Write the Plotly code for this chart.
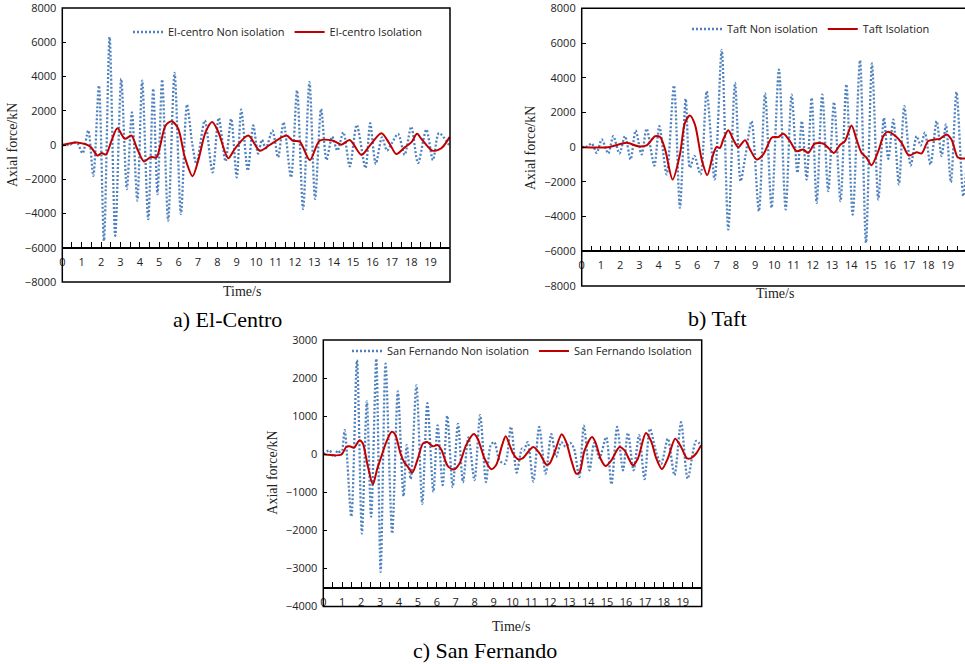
import plotly.graph_objects as go

# ---------------- data ----------------
# El-Centro
el_non_t = [0, 0.4, 0.6, 0.8, 1.05, 1.34, 1.6, 1.89, 2.15, 2.44, 2.73, 3.04, 3.33, 3.59, 3.87, 4.12, 4.43, 4.69,
            4.91, 5.15, 5.46, 5.79, 6.12, 6.43, 6.7, 6.92, 7.35, 7.75, 8.07, 8.42, 8.71, 9.0, 9.23, 9.57, 9.85,
            10.1, 10.3, 10.5, 10.84, 11.13, 11.41, 11.8, 12.11, 12.42, 12.75, 13.04, 13.35, 13.63, 13.92, 14.19,
            14.5, 14.83, 15.19, 15.64, 15.88, 16.17, 16.49, 16.75, 17.0, 17.32, 17.66, 18.0, 18.35, 18.78, 19.12,
            19.43, 19.95]
el_non_v = [0, 20, 150, 60, -480, 850, -1800, 3470, -5600, 6300, -5300, 3860, -2570, 1900, -3250, 3760, -4330, 3280,
            -2870, 3820, -4420, 4210, -4030, 2360, 100, -1100, 1430, -1600, 1580, -950, 1530, -1890, 2070, -1500, 1140,
            -500, 300, -200, 840, -720, 1330, -1890, 3190, -3740, 3670, -3150, 2110, -880, 490, -330,
            740, -1250, 1170, -1350, 1270, -1100, 450, -330, 100, 650, -570, 1070, -1050, 900, -880,
            690, 0]
el_iso_t = [0, 0.74, 1.43, 1.82, 2.03, 2.25, 2.54, 2.84, 3.23, 3.57, 3.83, 4.21, 4.55, 4.86, 5.03, 5.33, 5.64, 5.98,
            6.32, 6.72, 7.01, 7.39, 7.73, 8.04, 8.56, 8.9, 9.59, 10.19, 10.7, 11.56, 11.9, 12.25, 12.77, 13.28, 13.97,
            14.4, 14.83, 15.43, 15.86, 16.46, 16.89, 17.23, 17.66, 18.0, 18.3, 18.52, 19.09, 19.55, 19.98]
el_iso_v = [0, 150, -80, -620, -470, -560, 260, 980, 360, 550, -130, -960, -710, -710, -130, 1140, 1390, 950,
            -710, -1820, -910, 750, 1340, 790, -770, -220, 550, -330, 0, 550, 250, 200, -880, 250, 250,
            20, 290, -580, -40, 690, 60, -530, -140, 150, 650, 360, -330, -190, 460]

# Taft
tf_non_t = [0, 0.3, 0.52, 0.78, 1.04, 1.38, 1.64, 1.96, 2.25, 2.54, 2.8, 3.11, 3.37, 3.77, 4.03, 4.41, 4.79, 5.1,
            5.4, 5.62, 5.85, 6.17, 6.49, 6.9, 7.27, 7.61, 7.96, 8.25, 8.5, 8.82, 9.2, 9.52, 9.86, 10.24, 10.59,
            10.9, 11.2, 11.43, 11.68, 11.94, 12.2, 12.49, 12.8, 13.1, 13.44, 13.74, 14.07, 14.45, 14.76, 15.07,
            15.4, 15.69, 15.92, 16.18, 16.47, 16.75, 17.08, 17.39, 17.6, 17.82, 18.11, 18.43, 18.69, 18.91, 19.17,
            19.46, 19.81, 19.95]
tf_non_v = [0, 50, 210, -330, 440, -360, 630, -360, 630, -710, 960, -420, 1060, -1060, 1210, -1570, 3550, -3490,
            2780, -1190, -500, -1570, 3220, -1860, 5590, -4740, 3700, -1960, -500, 1500, -3690, 3090, -3490, 4470, -3590,
            3030, -1480, 1500, -1860, 2840, -3210, 3030, -2530, 2590, -3110, 3610, -3880, 5010, -5510, 4820,
            -3010, 1690, -670, 1590, -2150, 2360, -1060, 630, 100, 830, -1000, 1500, -520, 1310, -2020,
            3170, -2820, -1500]
tf_iso_t = [0, 1.38, 2.34, 2.94, 3.37, 3.81, 4.07, 4.33, 4.72, 5.1, 5.36, 5.62, 5.88, 6.23, 6.52, 6.8, 7.0, 7.18,
            7.35, 7.61, 7.87, 8.13, 8.48, 8.74, 9.08, 9.43, 9.86, 10.03, 10.2, 10.47, 10.81, 11.16, 11.5, 11.76,
            12.11, 12.54, 12.8, 13.1, 13.41, 13.67, 14.01, 14.27, 14.53, 14.79, 15.05, 15.4, 15.66, 15.88, 16.26,
            16.61, 16.99, 17.39, 17.65, 17.99, 18.34, 18.6, 18.94, 19.2, 19.52, 19.72, 19.95]
tf_iso_v = [0, 0, 250, 50, 100, 630, 580, -130, -1860, -420, 1400, 1820, 1300, -710, -1610, -520, 0, -40,
            440, 980, 440, 0, 400, -130, -710, -420, 540, 580, 580, 770, 350, -230, -130, -330,
            210, 210, -40, -330, 120, 350, 1250, 440, -330, -610, -1040, -230, 630, 880, 670,
            250, -480, -290, -360, 350, 440, 480, 730, 440, -580, -650, -650]

# San Fernando
sf_non_t = [0, 0.33, 0.56, 0.77, 0.95, 1.13, 1.48, 1.78, 2.04, 2.3, 2.53, 2.8, 3.03, 3.29, 3.64, 3.94, 4.24, 4.41,
            4.62, 4.92, 5.23, 5.5, 5.82, 6.04, 6.31, 6.55, 6.84, 7.12, 7.38, 7.67, 7.99, 8.29, 8.6, 8.85, 9.04,
            9.31, 9.6, 9.92, 10.22, 10.5, 10.6, 10.8, 11.1, 11.41, 11.75, 12.05, 12.3, 12.58, 12.8, 13.05, 13.25,
            13.53, 13.77, 14.07, 14.32, 14.6, 14.95, 15.23, 15.53, 15.84, 16.1, 16.4, 16.69, 16.98, 17.26, 17.6,
            17.86, 18.21, 18.56, 18.91, 19.26, 19.71, 20.0]
sf_non_v = [0, 100, -70, 100, 0, 630, -1640, 2470, -2080, 1390, -1640, 2510, -3090, 2380, -2080, 1650, -1100, 240,
            -650, 1810, -1300, 1340, -990, 760, -810, 1010, -860, 800, -730, 440, -680, 1030, -730, 240, 320,
            -160, -250, 720, -480, 150, 100, 320, -720, 720, -510, 530, -70, 320, 200, 300, 150,
            -600, 750, -420, 300, -100, 450, -790, 720, -420, 560, -420, 500, -650, 670, 40,
            -250, 410, -550, 840, -640, 350, 200]
sf_iso_t = [0, 0.95, 1.21, 1.39, 1.62, 1.92, 2.09, 2.36, 2.62, 2.85, 3.06, 3.33, 3.62, 3.8, 4.08, 4.29, 4.47, 4.7,
            5.0, 5.26, 5.49, 5.79, 6.05, 6.26, 6.58, 6.9, 7.2, 7.55, 7.95, 8.16, 8.52, 8.87, 9.13, 9.45, 9.64,
            9.85, 10.03, 10.29, 10.55, 10.82, 11.1, 11.44, 11.79, 11.96, 12.23, 12.6, 12.84, 13.11, 13.37, 13.55,
            13.81, 14.2, 14.38, 14.65, 14.92, 15.22, 15.66, 15.92, 16.19, 16.36, 16.63, 17.05, 17.33, 17.6, 17.9,
            18.21, 18.6, 18.91, 19.23, 19.44, 19.71, 19.97]
sf_iso_v = [0, -10, 190, 210, 170, 370, 280, -330, -790, -380, -70, 320, 590, 520, 20, -220, -330, -480,
            -110, 280, 320, 210, 240, 100, -310, -400, -240, 240, 530, 410, -110, -390, -290, 240, 470,
            240, 20, -130, -100, 60, 190, 20, -270, -240, 60, 525, 320, -160, -510, -460,
            100, 450, 320, -110, -310, -160, 190, 100, -160, -290, -110, 560, 340, -110, -390,
            -110, 410, 190, -110, -100, 20, 240]

x_tick_vals = list(range(20))
x_tick_text = [str(v) for v in x_tick_vals]

# ---------------- layout geometry ----------------
W, H = 965, 664
BLUE = "#4F81BD"
RED = "#C00000"
TICK_FONT = dict(family="Open Sans", size=11, color="#222")
SERIF = "Liberation Serif"


def px_x(p):
    return p / W


def px_y(p):
    return 1 - p / H


panels = [
    dict(name="El-centro", xd=[px_x(62.3), px_x(450)], yd=[px_y(282), px_y(8)], xr=[0, 20],
         yr=[-8000, 8000], dy=2000, xline=-6000,
         non=(el_non_t, el_non_v), iso=(el_iso_t, el_iso_v), leg=(128, 32),
         ytitle=(12, 145), xtitle=(242, 292), sub=("a) El-Centro", 227, 319), frame_x1=1),
    dict(name="Taft", xd=[px_x(581.7), 1.0], yd=[px_y(286), px_y(8.3)], xr=[0, (W - 581.7) / 19.26],
         yr=[-8000, 8000], dy=2000, xline=-6000,
         non=(tf_non_t, tf_non_v), iso=(tf_iso_t, tf_iso_v), leg=(687, 29),
         ytitle=(530, 148), xtitle=(775, 294), sub=("b) Taft", 717, 318), frame_x1=1.05),
    dict(name="San Fernando", xd=[px_x(323.3), px_x(701.7)], yd=[px_y(606.6), px_y(340)], xr=[0, 20],
         yr=[-4000, 3000], dy=1000, xline=-3500,
         non=(sf_non_t, sf_non_v), iso=(sf_iso_t, sf_iso_v), leg=(347, 351),
         ytitle=(271.7, 473), xtitle=(510.7, 626), sub=("c) San Fernando", 485, 650), frame_x1=1),
]

fig = go.Figure()
layout = dict(width=W, height=H, margin=dict(l=0, r=0, t=0, b=0),
              paper_bgcolor="white", plot_bgcolor="white", template="none",
              showlegend=True, annotations=[], shapes=[])

for i, p in enumerate(panels, start=1):
    sfx = "" if i == 1 else str(i)
    xa, ya = "x" + sfx, "y" + sfx
    leg = "legend" + sfx
    fig.add_trace(go.Scatter(x=p["non"][0], y=p["non"][1], mode="lines", name=p["name"] + " Non isolation",
                             line=dict(color=BLUE, width=2.3, dash="2px,2px", shape="spline", smoothing=0.8),
                             xaxis=xa, yaxis=ya, legend=leg))
    fig.add_trace(go.Scatter(x=p["iso"][0], y=p["iso"][1], mode="lines", name=p["name"] + " Isolation",
                             line=dict(color=RED, width=2, shape="spline", smoothing=0.8),
                             xaxis=xa, yaxis=ya, legend=leg))
    y0, y1 = p["yd"]
    pos = y0 + (p["xline"] - p["yr"][0]) / (p["yr"][1] - p["yr"][0]) * (y1 - y0)
    layout["xaxis" + sfx] = dict(domain=p["xd"], range=p["xr"], anchor="free", position=pos,
                                 showline=True, linecolor="black", linewidth=1.5,
                                 ticks="inside", ticklen=5, tickwidth=1, tickcolor="black",
                                 tickmode="array", tickvals=x_tick_vals, ticktext=x_tick_text,
                                 minor=dict(ticks="inside", tickmode="linear", tick0=0, dtick=0.5,
                                            ticklen=5, tickwidth=1, tickcolor="black"),
                                 ticklabelstandoff=4, tickfont=TICK_FONT, ticklabeloverflow="allow",
                                 showgrid=False, zeroline=False, fixedrange=True)
    layout["yaxis" + sfx] = dict(domain=p["yd"], range=p["yr"], anchor=xa, dtick=p["dy"], tick0=0,
                                 showline=False, ticks="inside", ticklen=4, tickcolor="black",
                                 ticklabelstandoff=5, tickfont=TICK_FONT, ticklabeloverflow="allow",
                                 showgrid=False, zeroline=False, fixedrange=True)
    layout["shapes"].append(dict(type="rect", xref=xa + " domain", yref=ya + " domain",
                                 x0=0, x1=p["frame_x1"], y0=0, y1=1,
                                 line=dict(color="black", width=1.5), fillcolor="rgba(0,0,0,0)", layer="above"))
    layout[leg] = dict(orientation="h", x=px_x(p["leg"][0]), y=px_y(p["leg"][1]), xanchor="left",
                       yanchor="middle", bgcolor="rgba(0,0,0,0)", font=dict(family="Open Sans", size=11, color="#222"),
                       itemwidth=30)
    layout["annotations"] += [
        dict(text="Axial force/kN", x=px_x(p["ytitle"][0]), y=px_y(p["ytitle"][1]), xref="paper", yref="paper",
             textangle=-90, showarrow=False, font=dict(family=SERIF, size=14, color="#222"),
             xanchor="center", yanchor="middle"),
        dict(text="Time/s", x=px_x(p["xtitle"][0]), y=px_y(p["xtitle"][1]), xref="paper", yref="paper",
             showarrow=False, font=dict(family=SERIF, size=14, color="#222"), xanchor="center", yanchor="middle"),
        dict(text=p["sub"][0], x=px_x(p["sub"][1]), y=px_y(p["sub"][2]), xref="paper", yref="paper",
             showarrow=False, font=dict(family=SERIF, size=22, color="black"), xanchor="center", yanchor="middle"),
    ]

fig.update_layout(**layout)
fig.write_html("out.html")
